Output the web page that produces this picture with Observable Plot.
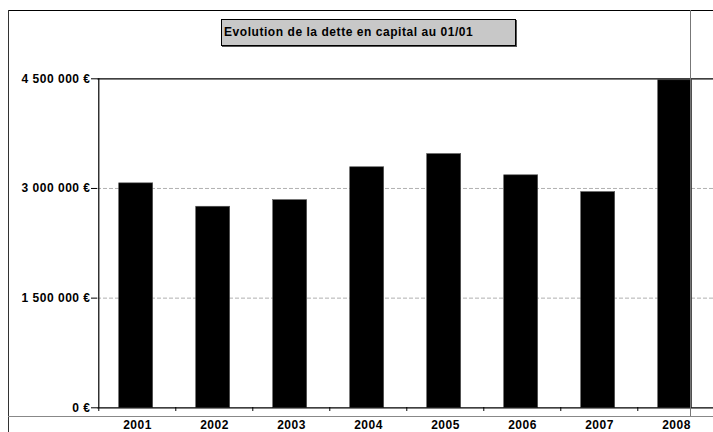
<!DOCTYPE html>
<html>
<head>
<meta charset="utf-8">
<script src="https://cdn.jsdelivr.net/npm/d3@7"></script>
<script src="https://cdn.jsdelivr.net/npm/@observablehq/plot@0.6"></script>
<style>
  html, body { margin: 0; padding: 0; background: #fff; }
  #wrap { position: relative; width: 713px; height: 432px; overflow: hidden; }
  #wrap svg { position: absolute; left: 0; top: 0; }
  .line { position: absolute; }
  #title {
    position: absolute; left: 221px; top: 19px; width: 291px; height: 25px;
    background: #c8c8c8; border: 1px solid #000; box-shadow: 1px 1px 0 #555;
    font: bold 12px "Liberation Sans", Arial, sans-serif; letter-spacing: 0.55px;
    line-height: 25px; padding-left: 2px; box-sizing: content-box; color: #000;
    white-space: nowrap;
  }
</style>
</head>
<body>
<div id="wrap"></div>
<script>
// Data
const years = ["2001", "2002", "2003", "2004", "2005", "2006", "2007", "2008"];
const values = [3070000, 2750000, 2840000, 3290000, 3470000, 3180000, 2950000, 4480000];
const yTicks = [0, 1500000, 3000000, 4500000];
const gridValues = [1500000, 3000000];
const frameValues = [0, 4500000];
const titleText = "Evolution de la dette en capital au 01/01";

const data = years.map((year, i) => ({year, value: values[i]}));

const locale = d3.formatLocale({thousands: " ", grouping: [3], decimal: ",", currency: ["", " €"]});
const fmtNum = locale.format(",");
const fmt = d => fmtNum(d) + " €";

const X0 = 96.7, X1 = 716;
const step = (X1 - X0) / years.length;

const chart = Plot.plot({
  width: 713,
  height: 432,
  marginLeft: 97,
  marginRight: 0,
  marginTop: 78,
  marginBottom: 25,
  style: {
    fontFamily: "'Liberation Sans', Arial, sans-serif",
    fontSize: "12px",
    fontWeight: "bold",
    letterSpacing: "0.5px",
    background: "transparent",
    color: "#000"
  },
  x: {type: "band", domain: years, range: [X0, X1], paddingInner: 0.56, paddingOuter: 0.28, axis: null, label: null},
  y: {domain: [0, 4500000], range: [407.3, 78.3], axis: null, label: null},
  marks: [
    Plot.ruleY(gridValues, {stroke: "#b0b0b0", strokeDasharray: "4,2"}),
    Plot.barY(data, {x: "year", y: "value", fill: "#000", stroke: "#555", strokeWidth: 0.6, dx: -1.3}),
    Plot.ruleY(frameValues, {stroke: "#000", strokeWidth: 1.2}),
    Plot.ruleX([years[0]], {dx: -step / 2, y1: 0, y2: 4500000, stroke: "#000", strokeWidth: 1.2}),
    Plot.axisY(yTicks, {tickSize: 6, tickPadding: 1, tickFormat: fmt, stroke: "#000", fill: "#000", label: null}),
    Plot.axisX(years, {tickSize: 4, dx: -step / 2, tickFormat: () => "", stroke: "#000", label: null}),
    Plot.axisX(years, {tickSize: 0, tickPadding: 13, fill: "#000", label: null})
  ]
});

const wrap = document.getElementById("wrap");
wrap.appendChild(chart);

// Outer chart-area frame lines (decoration)
function addLine(css) {
  const d = document.createElement("div");
  d.className = "line";
  Object.assign(d.style, css);
  wrap.appendChild(d);
}
addLine({left: "8px", top: "10px", width: "705px", height: "0", borderTop: "1.5px solid #000"});
addLine({left: "8px", top: "10px", width: "0", height: "422px", borderLeft: "1.5px solid #333"});
addLine({left: "690px", top: "10px", width: "0", height: "406px", borderLeft: "1.5px solid #777"});
addLine({left: "8px", top: "416px", width: "705px", height: "0", borderTop: "1.5px solid #888"});

const t = document.createElement("div");
t.id = "title";
t.textContent = titleText;
wrap.appendChild(t);
</script>
</body>
</html>
